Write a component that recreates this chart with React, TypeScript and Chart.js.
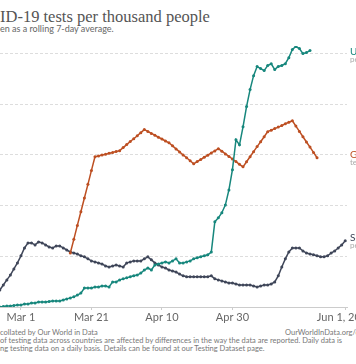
import React, { useEffect, useRef } from "react";
import { Chart, registerables } from "chart.js";

Chart.register(...registerables);

// x values are days relative to Mar 1, 2020
const seStartDay = -9;
const seValues = [
  0.008, 0.024, 0.043, 0.067, 0.087, 0.107, 0.126, 0.15, 0.174, 0.202,
  0.233, 0.253, 0.253, 0.245, 0.257, 0.253, 0.245, 0.237, 0.233, 0.241,
  0.241, 0.233, 0.225, 0.217, 0.213, 0.209, 0.202, 0.198, 0.19, 0.182,
  0.178, 0.174, 0.17, 0.162, 0.158, 0.162, 0.166, 0.162, 0.158, 0.174,
  0.178, 0.182, 0.182, 0.182, 0.19, 0.198, 0.186, 0.174, 0.166, 0.158,
  0.154, 0.146, 0.142, 0.138, 0.13, 0.123, 0.119, 0.119, 0.119, 0.119,
  0.119, 0.119, 0.119, 0.123, 0.111, 0.107, 0.103, 0.099, 0.095, 0.095,
  0.091, 0.087, 0.087, 0.087, 0.087, 0.083, 0.079, 0.083, 0.087, 0.087,
  0.091, 0.099, 0.123, 0.158, 0.19, 0.217, 0.233, 0.233, 0.233, 0.221,
  0.213, 0.209, 0.206, 0.202, 0.198, 0.198, 0.202, 0.213, 0.221, 0.233,
  0.245, 0.261,
];

const usStartDay = -9;
const usValues = [
  0, 0, 0, 0, 0.002, 0.004, 0.004, 0.006, 0.008, 0.008,
  0.012, 0.012, 0.016, 0.016, 0.02, 0.02, 0.02, 0.022, 0.024, 0.024,
  0.024, 0.028, 0.032, 0.036, 0.04, 0.047, 0.055, 0.075, 0.075, 0.075,
  0.079, 0.079, 0.083, 0.083, 0.079, 0.099, 0.099, 0.107, 0.111, 0.115,
  0.119, 0.123, 0.126, 0.134, 0.146, 0.154, 0.146, 0.166, 0.17, 0.174,
  0.178, 0.174, 0.182, 0.19, 0.174, 0.174, 0.178, 0.182, 0.19, 0.194,
  0.198, 0.202, 0.206, 0.217, 0.336, 0.352, 0.372, 0.403, 0.462, 0.542,
  0.66, 0.64, 0.711, 0.791, 0.858, 0.913, 0.949, 0.941, 0.933, 0.953,
  0.96, 0.937, 0.949, 0.953, 0.96, 0.984, 1.016, 1.028, 1.02, 1.0,
  1.004, 1.012,
];

const deStartDay = 14;
const deValues = [
  0.213, 0.267, 0.322, 0.376, 0.43, 0.484, 0.539, 0.593,
  0.596, 0.6, 0.603, 0.607, 0.61, 0.614, 0.617,
  0.629, 0.641, 0.653, 0.664, 0.676, 0.688, 0.7,
  0.693, 0.685, 0.678, 0.67, 0.663, 0.655, 0.648,
  0.636, 0.624, 0.612, 0.6, 0.589, 0.577, 0.565,
  0.574, 0.582, 0.591, 0.599, 0.608, 0.616, 0.625,
  0.615, 0.604, 0.594, 0.584, 0.574, 0.563, 0.553,
  0.573, 0.593, 0.613, 0.633, 0.652, 0.672, 0.692,
  0.698, 0.704, 0.71, 0.716, 0.723, 0.729, 0.735,
  0.714, 0.693, 0.672, 0.651, 0.631, 0.61, 0.589,
];

const tickDays = [0, 20, 40, 60, 92];
const tickLabels = ["Mar 1", "Mar 21", "Apr 10", "Apr 30", "Jun 1, 2020"];
const yTicks = [0, 0.2, 0.4, 0.6, 0.8, 1.0];

const TEAL = "#17877d";
const RED = "#bd4f22";
const NAVY = "#3f4659";

const toPoints = (start: number, vals: number[]) =>
  vals.map((v, i) => ({ x: start + i, y: v }));

const ds = (data: any[], color: string) => ({
  data,
  borderColor: color,
  backgroundColor: color,
  pointBackgroundColor: color,
  pointBorderWidth: 0,
  pointRadius: 1.5,
  borderWidth: 1.5,
  tension: 0,
});

export default function App() {
  const ref = useRef<HTMLCanvasElement>(null);

  useEffect(() => {
    if (!ref.current) return;
    const chart = new Chart(ref.current, {
      type: "line",
      data: {
        datasets: [
          ds(toPoints(usStartDay, usValues), TEAL),
          ds(toPoints(deStartDay, deValues), RED),
          ds(toPoints(seStartDay, seValues), NAVY),
        ],
      },
      options: {
        animation: false,
        responsive: false,
        devicePixelRatio: 1,
        layout: { autoPadding: false, padding: { left: 0, right: 40, top: 0, bottom: 0 } },
        plugins: { legend: { display: false }, tooltip: { enabled: false } },
        scales: {
          x: {
            type: "linear",
            min: -10.2,
            max: 92.5,
            afterBuildTicks: (s: any) => {
              s.ticks = tickDays.map((v) => ({ value: v }));
            },
            afterFit: (s: any) => {
              s.height = 16;
            },
            ticks: {
              autoSkip: false,
              maxRotation: 0,
              padding: 1,
              color: "#666",
              font: { family: "Lato", size: 11 },
              callback: (v: any) => tickLabels[tickDays.indexOf(Number(v))] ?? "",
            },
            grid: { drawOnChartArea: false, drawTicks: true, tickLength: 3, color: "#ccc" },
            border: { display: true, color: "#ccc" },
          },
          y: {
            min: 0,
            max: 1.03,
            afterBuildTicks: (s: any) => {
              s.ticks = yTicks.map((v) => ({ value: v }));
            },
            afterFit: (s: any) => {
              s.width = 0;
            },
            ticks: { display: false },
            grid: {
              drawTicks: false,
              color: (c: any) => (c.tick && c.tick.value === 0 ? "#ccc" : "#ddd"),
            },
            border: {
              display: false,
              dash: (c: any) => (c.tick && c.tick.value === 0 ? [] : [3, 2]),
            },
          },
        },
      },
    });
    return () => chart.destroy();
  }, []);

  const txt = (style: React.CSSProperties, s: string) => (
    <div style={{ position: "absolute", whiteSpace: "nowrap", fontFamily: "Lato", ...style }}>{s}</div>
  );

  return (
    <div
      style={{
        position: "fixed",
        left: 0,
        top: 0,
        width: 356,
        height: 364,
        overflow: "hidden",
        background: "#fff",
      }}
    >
      {txt(
        { left: 0, top: 9, fontFamily: "'Liberation Serif', serif", fontSize: 16.5, lineHeight: "16px", color: "#555" },
        "ID-19 tests per thousand people"
      )}
      {txt({ left: 0, top: 24, fontSize: 9, lineHeight: "10px", color: "#666" }, "en as a rolling 7-day average.")}
      <canvas
        ref={ref}
        width={402}
        height={277}
        style={{ position: "absolute", left: -15, top: 46, width: 402, height: 277 }}
      />
      {txt({ left: 350, top: 45, fontSize: 10, lineHeight: "12px", color: TEAL }, "U")}
      {txt({ left: 350, top: 55, fontSize: 8, lineHeight: "9px", color: "#aaa" }, "pe")}
      {txt({ left: 350, top: 148, fontSize: 10, lineHeight: "12px", color: RED }, "G")}
      {txt({ left: 350, top: 158, fontSize: 8, lineHeight: "9px", color: "#aaa" }, "te")}
      {txt({ left: 350, top: 231, fontSize: 10, lineHeight: "12px", color: NAVY }, "Se")}
      {txt({ left: 350, top: 241, fontSize: 8, lineHeight: "9px", color: "#aaa" }, "pe")}
      {txt({ left: 0, top: 329, fontSize: 7.5, lineHeight: "8px", color: "#777" }, "collated by Our World in Data")}
      {txt({ left: 285, top: 329, fontSize: 7.5, lineHeight: "8px", color: "#777" }, "OurWorldInData.org/coronavirus • CC BY")}
      {txt(
        { left: 0, top: 337, fontSize: 7.5, lineHeight: "8px", color: "#777" },
        "of testing data across countries are affected by differences in the way the data are reported. Daily data is"
      )}
      {txt(
        { left: 0, top: 345, fontSize: 7.5, lineHeight: "8px", color: "#777" },
        "ng testing data on a daily basis. Details can be found at our Testing Dataset page."
      )}
    </div>
  );
}
